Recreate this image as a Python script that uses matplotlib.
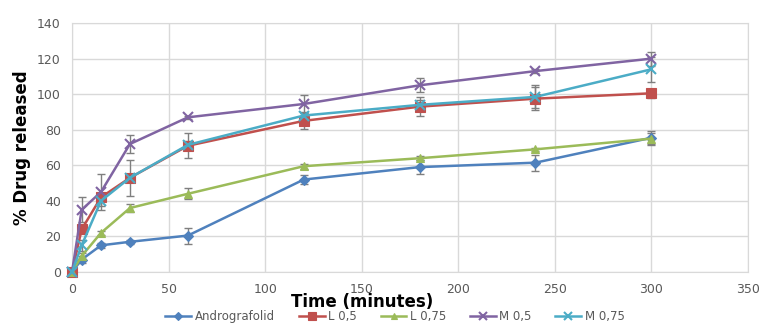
import numpy as np
import matplotlib.pyplot as plt

time = [0, 5, 15, 30, 60, 120, 180, 240, 300]

series = ["Andrografolid", "L 0,5", "L 0,75", "M 0,5", "M 0,75"]
andro = [0, 7, 15, 17, 20.5, 52, 59, 61.5, 75.5]
l05 = [0, 24, 42, 53, 71, 85, 93, 97.5, 100.5]
l075 = [0, 9, 22, 36, 44, 59.5, 64, 69, 75]
m05 = [0, 35, 45, 72, 87, 94.5, 105, 113, 120]
m075 = [0, 15, 40, 53, 71.5, 88, 94, 98.5, 114]

andro_err = [0, 2, 1.5, 1, 4.5, 2.5, 4, 4.5, 4]
l05_err = [0, 2, 2, 10, 7, 4.5, 5.5, 6.5, 2.5]
l075_err = [0, 1.5, 1, 2, 3, 1.5, 1, 1, 3]
m05_err = [0, 7, 10, 5, 1, 5, 4, 1, 4]
m075_err = [0, 3, 3, 2, 2, 2, 3, 6.5, 7]

values = [andro, l05, l075, m05, m075]
errors = [andro_err, l05_err, l075_err, m05_err, m075_err]
colors = ["#4F81BD", "#C0504D", "#9BBB59", "#8064A2", "#4BACC6"]
markers = ["D", "s", "^", "x", "x"]
msizes = [5, 7, 6, 7, 7]

fig = plt.figure(figsize=(7.62, 3.25), dpi=100)
ax = fig.add_axes([0.0945, 0.163, 0.887, 0.766])

for name, y, e, c, m, ms in zip(series, values, errors, colors, markers, msizes):
    ax.errorbar(time, y, yerr=e, fmt="none", ecolor="#7f7f7f", elinewidth=1,
                capsize=3, capthick=1, zorder=2)
    ax.plot(time, y, color=c, marker=m, markersize=ms, linewidth=1.8,
            markeredgewidth=1.5 if m == "x" else 0.8, label=name, zorder=3,
            clip_on=False)

ax.set_xlim(0, 350)
ax.set_ylim(0, 140)
ax.set_xticks(np.arange(0, 351, 50))
ax.set_yticks(np.arange(0, 141, 20))
ax.grid(True, color="#d9d9d9", linewidth=1)
ax.set_axisbelow(True)
for s in ax.spines.values():
    s.set_color("#d9d9d9")
ax.tick_params(length=0, labelsize=9, labelcolor="#595959", pad=8)

ax.set_ylabel("% Drug released", fontsize=12, fontweight="bold")
ax.text(150, -17, "Time (minutes)", fontsize=12, fontweight="bold",
        ha="center", va="center")

ax.legend(loc="center", bbox_to_anchor=(0.478, -0.18), ncol=5,
          frameon=False, fontsize=8.5, handlelength=2.2, columnspacing=2,
          handletextpad=0.3, labelcolor="#595959", markerscale=0.8)

plt.savefig("out.png", dpi=100)
